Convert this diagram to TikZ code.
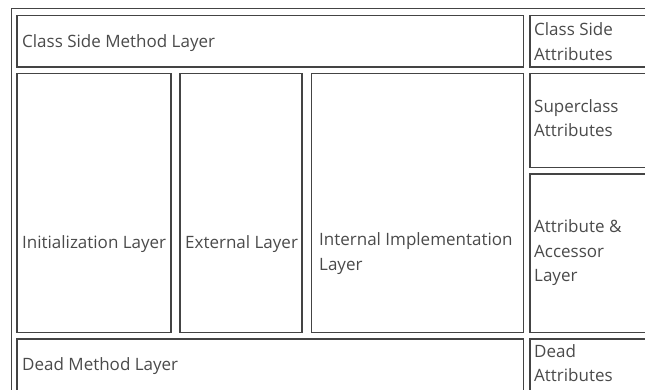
\documentclass[tikz,border=0pt]{standalone}
\usepackage{xcolor}
\usepackage{fontspec}
\setmainfont{Open Sans}[Ligatures=NoCommon]
\usepackage{tikz}
\usetikzlibrary{positioning, calc}
\definecolor{framegray}{HTML}{444444}
\definecolor{textgray}{HTML}{4A4A4A}
\tikzstyle{layer}=[draw=framegray, line width=1.2pt, rectangle,
  inner sep=0pt, outer sep=0pt, anchor=north west]
\tikzstyle{caption}=[text=textgray, font=\fontsize{17}{24.5}\selectfont,
  align=left, inner sep=0pt, anchor=base west]

\begin{document}
\begin{tikzpicture}[x=1pt, y=-1pt]
  \useasboundingbox (0,0) rectangle (645,389);
  \clip (0,0) rectangle (645,389);
  \node[layer, minimum width=660pt, minimum height=420pt] (outer) at (11.5,8.5) {};
  % top row
  \node[layer, minimum width=506.5pt, minimum height=51.5pt] (csm) at (17,15.5) {};
  \node[layer, minimum width=130pt, minimum height=51.5pt,
    right=6.5pt of csm.north east, anchor=north west] (csa) {};
  % middle row
  \node[layer, minimum width=154pt, minimum height=259pt,
    below=6.5pt of csm.south west, anchor=north west] (init) {};
  \node[layer, minimum width=122pt, minimum height=259pt,
    right=9pt of init.north east, anchor=north west] (ext) {};
  \node[layer, minimum width=212pt, minimum height=259pt,
    right=9.5pt of ext.north east, anchor=north west] (int) {};
  \node[layer, minimum width=130pt, minimum height=94pt,
    below=6.5pt of csa.south west, anchor=north west] (sup) {};
  \node[layer, minimum width=130pt, minimum height=158.5pt,
    below=6.5pt of sup.south west, anchor=north west] (acc) {};
  % bottom row
  \node[layer, minimum width=506.5pt, minimum height=81pt,
    below=6.5pt of init.south west, anchor=north west] (dml) {};
  \node[layer, minimum width=130pt, minimum height=81pt,
    below=6.5pt of acc.south west, anchor=north west] (dat) {};
  % captions (anchored at the baseline of the last line)
  \node[caption] (csmtext) at ($(csm.north west)+(5,31.5)$) {Class Side Method Layer};
  \node[caption] (csatext) at ($(csa.north west)+(4,44.5)$) {Class Side\\Attributes};
  \node[caption] (inittext) at ($(init.north west)+(5,174.5)$) {Initialization Layer};
  \node[caption] (exttext) at ($(ext.north west)+(5,174.5)$) {External Layer};
  \node[caption] (inttext) at ($(int.north west)+(7.5,196.5)$) {Internal Implementation\\Layer};
  \node[caption] (suptext) at ($(sup.north west)+(4,63)$) {Superclass\\Attributes};
  \node[caption] (acctext) at ($(acc.north west)+(4,107.7)$) {Attribute \&\\Accessor\\Layer};
  \node[caption] (dmltext) at ($(dml.north west)+(5,31)$) {Dead Method Layer};
  \node[caption] (dattext) at ($(dat.north west)+(4,42.7)$) {Dead\\Attributes};
\end{tikzpicture}
\end{document}
